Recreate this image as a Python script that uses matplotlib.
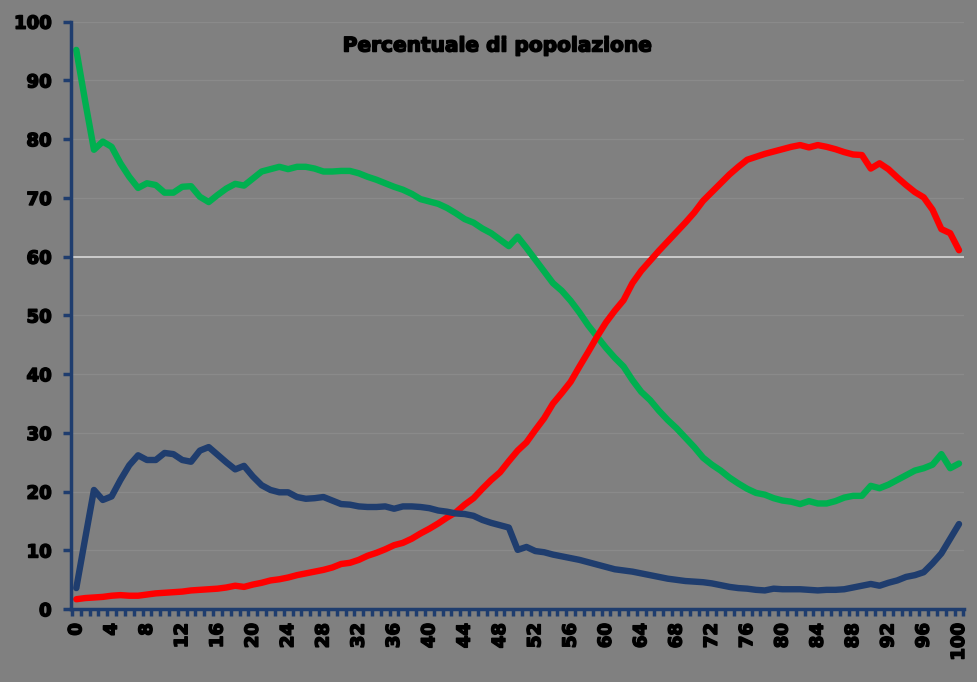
import matplotlib
matplotlib.use("Agg")
import matplotlib.pyplot as plt
import matplotlib.patheffects as pe
import numpy as np

ages = list(range(0, 101))

pct_15_64 = [95.2, 86.5, 78.2, 79.6, 78.7, 75.9, 73.6, 71.7, 72.5, 72.2,
             70.9, 70.9, 71.9, 72.0, 70.2, 69.3, 70.5, 71.6, 72.4, 72.1,
             73.3, 74.5, 74.9, 75.3, 74.9, 75.3, 75.3, 75.0, 74.5, 74.5,
             74.6, 74.6, 74.2, 73.6, 73.1, 72.5, 71.9, 71.4, 70.7, 69.8,
             69.4, 69.0, 68.3, 67.4, 66.4, 65.8, 64.8, 64.0, 62.9, 61.8,
             63.4, 61.5, 59.5, 57.5, 55.5, 54.2, 52.5, 50.5, 48.3, 46.4,
             44.5, 42.8, 41.3, 39.0, 37.0, 35.6, 33.8, 32.2, 30.8, 29.2,
             27.6, 25.8, 24.6, 23.6, 22.4, 21.4, 20.5, 19.8, 19.5, 18.9,
             18.5, 18.3, 17.9, 18.4, 18.0, 18.0, 18.4, 19.0, 19.3, 19.3,
             21.0, 20.6, 21.2, 22.0, 22.8, 23.6, 24.0, 24.6, 26.4, 24.0,
             24.8]

pct_0_14 = [3.6, 12.0, 20.3, 18.6, 19.2, 22.0, 24.5, 26.2, 25.4, 25.4,
            26.6, 26.4, 25.4, 25.1, 27.0, 27.6, 26.3, 25.0, 23.8, 24.4,
            22.6, 21.1, 20.3, 19.9, 19.9, 19.1, 18.8, 18.9, 19.1, 18.5,
            17.9, 17.8, 17.5, 17.4, 17.4, 17.5, 17.1, 17.5, 17.5, 17.4,
            17.2, 16.8, 16.6, 16.3, 16.2, 15.9, 15.2, 14.7, 14.3, 13.9,
            10.1, 10.6, 9.9, 9.7, 9.3, 9.0, 8.7, 8.4, 8.0, 7.6,
            7.2, 6.8, 6.6, 6.4, 6.1, 5.8, 5.5, 5.2, 5.0, 4.8,
            4.7, 4.6, 4.4, 4.1, 3.8, 3.6, 3.5, 3.3, 3.2, 3.5,
            3.4, 3.4, 3.4, 3.3, 3.2, 3.3, 3.3, 3.4, 3.7, 4.0,
            4.3, 4.0, 4.5, 4.9, 5.5, 5.8, 6.3, 7.8, 9.5, 12.0,
            14.5]

pct_65_plus = [1.7, 1.9, 2.0, 2.1, 2.3, 2.4, 2.3, 2.3, 2.5, 2.7,
               2.8, 2.9, 3.0, 3.2, 3.3, 3.4, 3.5, 3.7, 4.0, 3.8,
               4.2, 4.5, 4.9, 5.1, 5.4, 5.8, 6.1, 6.4, 6.7, 7.1,
               7.7, 7.9, 8.4, 9.1, 9.6, 10.2, 10.9, 11.3, 12.0, 12.9,
               13.7, 14.6, 15.6, 16.5, 17.8, 18.9, 20.5, 22.0, 23.3, 25.2,
               27.0, 28.4, 30.5, 32.5, 35.0, 36.8, 38.7, 41.3, 43.8, 46.4,
               48.8, 50.8, 52.6, 55.5, 57.6, 59.3, 61.0, 62.6, 64.2, 65.8,
               67.5, 69.5, 71.0, 72.5, 74.0, 75.3, 76.5, 77.0, 77.5, 77.9,
               78.3, 78.7, 79.0, 78.6, 79.0, 78.7, 78.3, 77.8, 77.4, 77.3,
               75.0, 75.9, 74.9, 73.5, 72.2, 71.0, 70.1, 68.0, 64.7, 64.0,
               61.1]

title = "Percentuale di popolazione"
y_ticks = list(range(0, 101, 10))
x_label_ticks = list(range(0, 101, 4))

BG = "#808080"
NAVY = "#1f3d6e"
GREEN = "#00b050"
RED = "#ff0000"

heavy = [pe.withStroke(linewidth=1.1, foreground="black")]

fig = plt.figure(figsize=(9.78, 6.82), dpi=100, facecolor=BG)
ax = fig.add_axes([0.0726, 0.1067, 0.9134, 0.8615])
ax.set_facecolor(BG)

# gridlines
for v in y_ticks[1:]:
    if v == 60:
        ax.axhline(v, color="#d8d8d8", lw=1.2, zorder=1)
    else:
        ax.axhline(v, color="#8a8a8a", lw=1.0, zorder=1)

lw = 4.6
ax.plot(ages, pct_15_64, color=GREEN, lw=lw, solid_joinstyle="round", solid_capstyle="round", zorder=3)
ax.plot(ages, pct_65_plus, color=RED, lw=lw, solid_joinstyle="round", solid_capstyle="round", zorder=3)
ax.plot(ages, pct_0_14, color=NAVY, lw=lw, solid_joinstyle="round", solid_capstyle="round", zorder=3)

ax.set_xlim(-0.6, 100.6)
ax.set_ylim(0, 100)

for s in ["top", "right"]:
    ax.spines[s].set_visible(False)
for s in ["left", "bottom"]:
    ax.spines[s].set_color(NAVY)
    ax.spines[s].set_linewidth(2.5)
    ax.spines[s].set_zorder(4)

ax.set_yticks(y_ticks)
ax.set_yticklabels([str(v) for v in y_ticks], fontsize=13, fontweight="heavy", color="black")
ax.tick_params(axis="y", direction="out", length=6, width=2.5, color=NAVY, pad=8)

ax.set_xticks(x_label_ticks)
ax.set_xticklabels([str(v) for v in x_label_ticks], rotation=90, fontsize=13,
                   fontweight="heavy", color="black", va="top", ha="center")
ax.set_xticks(np.arange(-0.5, 101, 1.0), minor=True)
ax.tick_params(axis="x", which="major", length=0, pad=10)
ax.tick_params(axis="x", which="minor", direction="out", length=5, width=2.5, color=NAVY)

for lab in ax.get_xticklabels() + ax.get_yticklabels():
    lab.set_path_effects(heavy)

fig.text(498 / 978, 1 - 46 / 682, title, fontsize=14.5, fontweight="heavy",
         ha="center", va="center", color="black", path_effects=heavy)

fig.savefig("out.png", dpi=100, facecolor=BG)
